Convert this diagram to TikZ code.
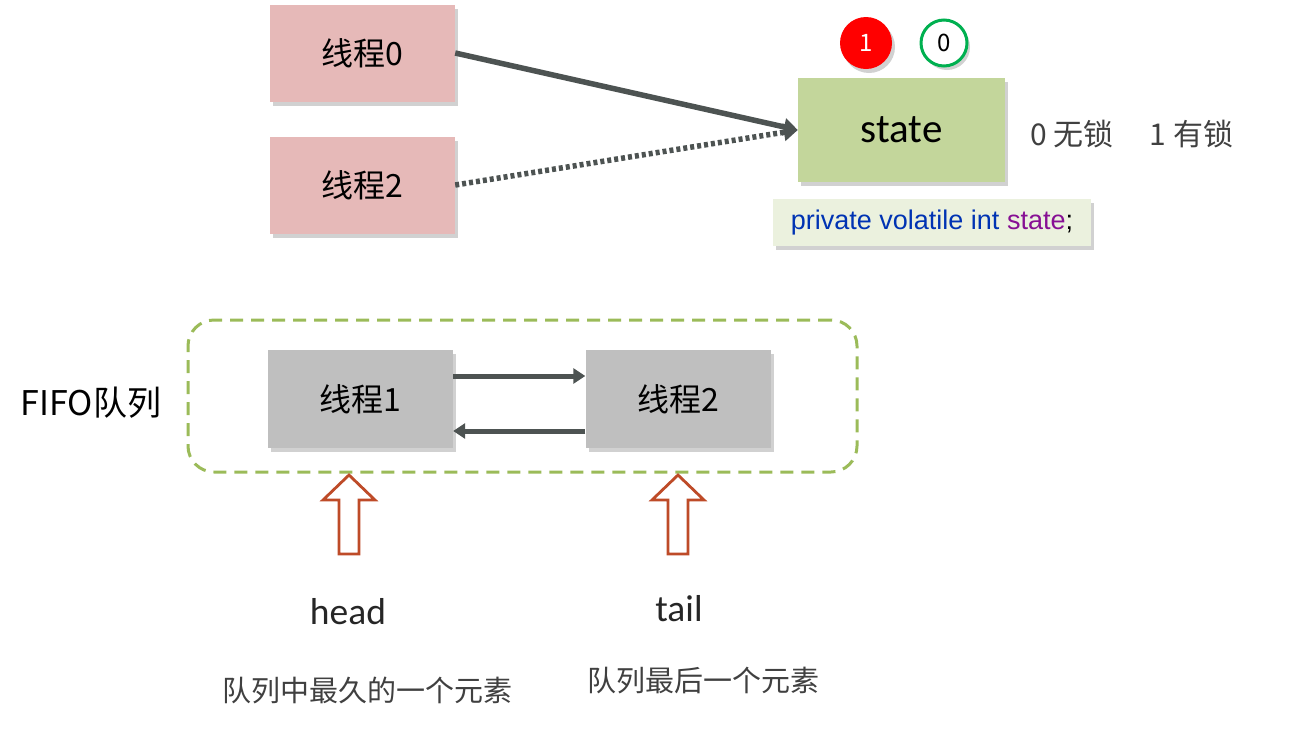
\documentclass[tikz,border=0pt]{standalone}
\usepackage{fontspec}
\setmainfont{Carlito}
\newfontfamily\cjk{Noto Sans CJK SC}
\newfontfamily\arial{Liberation Sans}
\usetikzlibrary{shadows,arrows.meta}
\definecolor{pinkbox}{HTML}{E6B9B8}
\definecolor{greenbox}{HTML}{C3D69B}
\definecolor{graybox}{HTML}{BFBFBF}
\definecolor{codebg}{HTML}{EBF1DE}
\definecolor{arrowgray}{HTML}{4D5352}
\definecolor{dashgreen}{HTML}{9BBB59}
\definecolor{hollowred}{HTML}{BE4B28}
\definecolor{okgreen}{HTML}{00B050}
\definecolor{kwblue}{HTML}{0033B3}
\definecolor{kwpurple}{HTML}{871094}
\definecolor{txtgray}{HTML}{404040}
\tikzset{
  shd/.style={drop shadow={shadow xshift=3pt,shadow yshift=-4pt,opacity=0.3,fill=black!60}},
  threadbox/.style={shd,minimum width=185pt,minimum height=97pt,inner sep=0pt,font=\cjk\fontsize{32}{36}\selectfont},
  conn/.style={draw=arrowgray,line width=5.5pt,-{Triangle[length=14pt,width=17pt]}},
  qconn/.style={draw=arrowgray,line width=5pt,-{Triangle[length=12pt,width=15pt]}},
  hollow/.style={draw=hollowred,line width=2.8pt,fill=white},
}
\begin{document}
\begin{tikzpicture}[x=1pt,y=-1pt]
\useasboundingbox (0,0) rectangle (1293,729);
% top threads
\node[threadbox,fill=pinkbox] (t0) at (362.5,53) {线程0};
\node[threadbox,fill=pinkbox] (t2) at (362.5,185) {线程2};
\node[shd,fill=greenbox,minimum width=207pt,minimum height=104pt,inner sep=0pt,font=\fontsize{41}{44}\selectfont] (st) at (901.5,130) {\raisebox{-3pt}{state}};
\node[circle,fill=red,minimum size=52pt,inner sep=0pt,shd,text=white,font=\cjk\fontsize{24}{26}\selectfont] (c1) at (866,43) {1};
\node[circle,draw=okgreen,line width=3pt,fill=white,minimum size=46pt,inner sep=0pt,shd,font=\cjk\fontsize{24}{26}\selectfont] (c0) at (944,43) {0};
\node[text=txtgray,font=\cjk\fontsize{30}{34}\selectfont,anchor=west] (lk) at (1027,134) {0 无锁\hspace{36pt}1 有锁};
\node[shd,fill=codebg,minimum width=318pt,minimum height=47pt,inner sep=0pt,font=\arial\fontsize{27}{30}\selectfont] (code) at (932,222.5) {\textcolor{kwblue}{private volatile int} \textcolor{kwpurple}{state};};
\draw[conn] (t0.east) -- (st.west);
\draw[conn,dash pattern=on 4pt off 3pt] (t2.east) -- (st.west);
% FIFO queue
\node[draw=dashgreen,line width=3pt,dash pattern=on 13pt off 8pt,rounded corners=26pt,minimum width=669pt,minimum height=152pt,inner sep=0pt] (fifo) at (522.5,396) {};
\node[font=\cjk\fontsize{34}{38}\selectfont] (fl) at (91,403) {FIFO队列};
\node[threadbox,fill=graybox,minimum height=98pt] (q1) at (360.5,399) {线程1};
\node[threadbox,fill=graybox,minimum height=98pt] (q2) at (678,399) {线程2};
\draw[qconn] (q1.east |- 0,376) -- (q2.west |- 0,376);
\draw[qconn] (q2.west |- 0,431) -- (q1.east |- 0,431);
% hollow arrows
\draw[hollow] (349,475) -- (375,500) -- (359,500) -- (359,554) -- (339,554) -- (339,500) -- (323,500) -- cycle;
\draw[hollow] (678,475) -- (704,500) -- (688,500) -- (688,554) -- (668,554) -- (668,500) -- (652,500) -- cycle;
\node[text=black!85,font=\fontsize{37.5}{40}\selectfont] (hd) at (348,612) {head};
\node[text=black!85,font=\fontsize{37.5}{40}\selectfont] (tl) at (679,609) {tail};
\node[text=txtgray,font=\cjk\fontsize{29}{32}\selectfont] (hdd) at (367,690) {队列中最久的一个元素};
\node[text=txtgray,font=\cjk\fontsize{29}{32}\selectfont] (tld) at (703,681) {队列最后一个元素};
\end{tikzpicture}
\end{document}
